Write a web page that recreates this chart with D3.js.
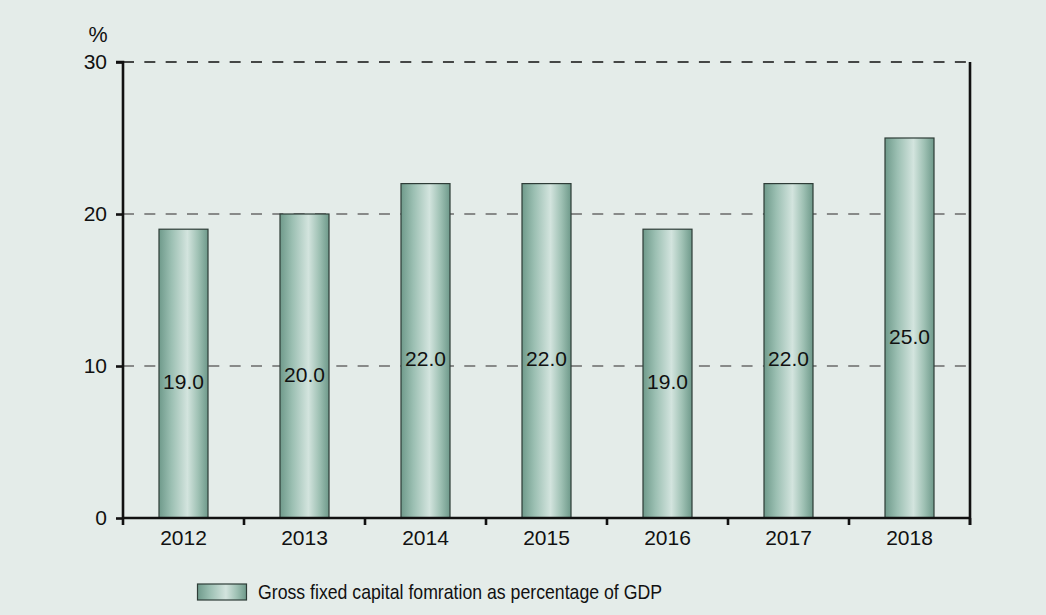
<!DOCTYPE html>
<html>
<head>
<meta charset="utf-8">
<script src="https://cdn.jsdelivr.net/npm/d3@7"></script>
<style>
  html, body { margin: 0; padding: 0; background: #e4ece9; }
  svg { display: block; }
  text { font-family: "Liberation Sans", Arial, sans-serif; fill: #111; }
</style>
</head>
<body>
<svg id="chart" width="1046" height="615"></svg>
<script>
const years = ["2012", "2013", "2014", "2015", "2016", "2017", "2018"];
const gfcfShare = [19.0, 20.0, 22.0, 22.0, 19.0, 22.0, 25.0];
const yTicks = [0, 10, 20, 30];
const seriesName = "Gross fixed capital fomration as percentage of GDP";

const svg = d3.select("#chart");
const W = 1046, H = 615;
svg.append("rect").attr("width", W).attr("height", H).attr("fill", "#e4ece9");

const plotL = 123, plotR = 970, plotT = 62, plotB = 518;
const fs = 21;

const x = d3.scaleBand().domain(years).range([plotL, plotR]).paddingInner(0.595).paddingOuter(0.2975);
const y = d3.scaleLinear().domain([0, 30]).range([plotB, plotT]);

// bar gradient
const defs = svg.append("defs");
const grad = defs.append("linearGradient").attr("id", "barGrad").attr("x1", "0%").attr("x2", "100%");
[["0%", "#6f9a8b"], ["25%", "#9bbfb2"], ["58%", "#d3e4de"], ["80%", "#9fc1b4"], ["100%", "#6e998a"]]
  .forEach(([o, c]) => grad.append("stop").attr("offset", o).attr("stop-color", c));

// gridlines
const grid = svg.append("g");
grid.selectAll("line").data(yTicks.filter(t => t > 0)).join("line")
  .attr("x1", plotL).attr("x2", plotR)
  .attr("y1", d => y(d)).attr("y2", d => y(d))
  .attr("stroke", d => d === 30 ? "#111" : "#6a6a6a")
  .attr("stroke-width", 1.6)
  .attr("stroke-dasharray", "11,10.33");

// bars
svg.append("g").selectAll("rect").data(years).join("rect")
  .attr("x", d => x(d))
  .attr("y", (d, i) => y(gfcfShare[i]))
  .attr("width", x.bandwidth())
  .attr("height", (d, i) => y(0) - y(gfcfShare[i]))
  .attr("fill", "url(#barGrad)")
  .attr("stroke", "#2e3c37")
  .attr("stroke-width", 1.2);

// value labels
svg.append("g").selectAll("text").data(years).join("text")
  .attr("x", d => x(d) + x.bandwidth() / 2)
  .attr("y", (d, i) => (y(gfcfShare[i]) + y(0)) / 2 + 15.5)
  .attr("text-anchor", "middle")
  .attr("font-size", fs)
  .text((d, i) => gfcfShare[i].toFixed(1));

// left axis
const yAxis = d3.axisLeft(y).tickValues(yTicks).tickSize(7).tickPadding(9).tickFormat(d3.format("d"));
const ga = svg.append("g").attr("transform", `translate(${plotL},0)`).call(yAxis);
ga.select(".domain").attr("stroke", "#111").attr("stroke-width", 2.6).attr("d", `M-7,${plotT}H0V${plotB}`);
ga.selectAll(".tick line").attr("stroke", "#111").attr("stroke-width", 2.6);
ga.selectAll(".tick text").attr("font-size", fs).attr("font-family", "Liberation Sans, Arial, sans-serif").attr("fill", "#111");

// right axis line
svg.append("line").attr("x1", plotR).attr("x2", plotR).attr("y1", plotT).attr("y2", plotB + 7)
  .attr("stroke", "#111").attr("stroke-width", 2.6);

// bottom axis with ticks at band boundaries
const gx = svg.append("g");
gx.append("line").attr("x1", plotL - 1).attr("x2", plotR + 1).attr("y1", plotB).attr("y2", plotB)
  .attr("stroke", "#111").attr("stroke-width", 2.6);
const edges = d3.range(years.length + 1).map(i => plotL + i * x.step());
gx.selectAll("line.edge").data(edges).join("line").attr("class", "edge")
  .attr("x1", d => d).attr("x2", d => d).attr("y1", plotB).attr("y2", plotB + 7)
  .attr("stroke", "#111").attr("stroke-width", 2.6);
gx.selectAll("text").data(years).join("text")
  .attr("x", d => x(d) + x.bandwidth() / 2)
  .attr("y", plotB + 27)
  .attr("text-anchor", "middle")
  .attr("font-size", fs)
  .text(d => d);

// unit label
svg.append("text").attr("x", 98).attr("y", 42).attr("text-anchor", "middle").attr("font-size", 21.5).text("%");

// legend
const lg = svg.append("g");
lg.append("rect").attr("x", 197.5).attr("y", 584).attr("width", 49).attr("height", 16)
  .attr("fill", "url(#barGrad)").attr("stroke", "#2e3c37").attr("stroke-width", 1.2);
lg.append("text").attr("x", 258).attr("y", 599).attr("font-size", 21)
  .attr("textLength", 404).attr("lengthAdjust", "spacingAndGlyphs")
  .text(seriesName);
</script>
</body>
</html>
